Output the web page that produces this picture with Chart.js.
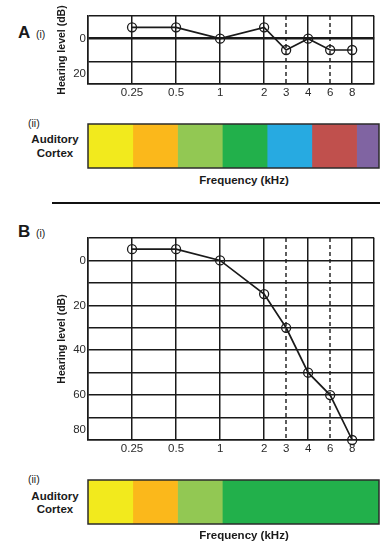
<!DOCTYPE html>
<html>
<head>
<meta charset="utf-8">
<script src="https://cdn.jsdelivr.net/npm/chart.js@4.4.0/dist/chart.umd.min.js"></script>
<style>
  body { margin: 0; background: #fff; font-family: "Liberation Sans", Arial, sans-serif; color: #1a1a1a; }
  #page { position: relative; width: 380px; height: 542px; overflow: hidden; }
  .box { position: absolute; left: 0; width: 380px; }
  .t { position: absolute; white-space: nowrap; line-height: 16px; height: 16px; }
  .c { transform: translateX(-50%); text-align: center; }
  .b { font-weight: bold; }
</style>
</head>
<body>
<div id="page">
  <div class="t b" style="left:18px;top:25px;font-size:17px;">A</div>
  <div class="t" style="left:36px;top:26px;font-size:10.5px;">(i)</div>
  <div class="box" style="top:0;height:100px;"><canvas id="audioA" width="380" height="100"></canvas></div>

  <div class="t" style="left:28px;top:115px;font-size:10.5px;">(ii)</div>
  <div class="t b c" style="left:55px;top:131px;font-size:11.5px;">Auditory</div>
  <div class="t b c" style="left:55px;top:145px;font-size:11.5px;">Cortex</div>
  <div class="box" style="top:120px;height:52px;"><canvas id="cortexA" width="380" height="52"></canvas></div>
  <div class="t b c" style="left:244px;top:172px;font-size:11.5px;">Frequency (kHz)</div>

  <div style="position:absolute;left:52px;top:202px;width:328px;height:2px;background:#111;"></div>

  <div class="t b" style="left:18px;top:224px;font-size:17px;">B</div>
  <div class="t" style="left:36px;top:225px;font-size:10.5px;">(i)</div>
  <div class="box" style="top:222px;height:234px;"><canvas id="audioB" width="380" height="234"></canvas></div>

  <div class="t" style="left:28px;top:471px;font-size:10.5px;">(ii)</div>
  <div class="t b c" style="left:55px;top:488px;font-size:11.5px;">Auditory</div>
  <div class="t b c" style="left:55px;top:501px;font-size:11.5px;">Cortex</div>
  <div class="box" style="top:476px;height:52px;"><canvas id="cortexB" width="380" height="52"></canvas></div>
  <div class="t b c" style="left:244px;top:527px;font-size:11.5px;">Frequency (kHz)</div>
</div>

<script>
// frequencies (kHz) and where they sit on the octave axis
var freqLabels = ['0.25', '0.5', '1', '2', '3', '4', '6', '8']
var freqPos = [0, 1, 2, 3, 3.5, 4, 4.5, 5]
var gridPos = [-1, 0, 1, 2, 3, 3.5, 4, 4.5, 5, 5.5]
var dashedPos = [3.5, 4.5]

// hearing level (dB HL)
var hearingA = [-5, -5, 0, -5, 5, 0, 5, 5]
var hearingB = [-5, -5, 0, 15, 30, 50, 60, 80]
var levelGridA = [-10, 0, 10, 20]
var levelGridB = [-10, 0, 10, 20, 30, 40, 50, 60, 70, 80]
var levelLabelsA = [0, 20]
var levelLabelsB = [0, 20, 40, 60, 80]

// auditory cortex bands (edges on the octave axis)
var bandEdgesA = [-1, 0, 1, 2, 3, 4, 5, 5.5]
var bandColorsA = ['#f2ea1d', '#fbb81b', '#92c853', '#22b04b', '#27aae1', '#c0504d', '#8064a2']
var bandEdgesB = [-1, 0, 1, 2, 5.5]
var bandColorsB = ['#f2ea1d', '#fbb81b', '#92c853', '#22b04b']

const ink = '#1a1a1a'
const font = '"Liberation Sans", Arial, sans-serif'

Chart.defaults.animation = false
Chart.defaults.font.family = font
Chart.defaults.color = '#2a2a2a'

// dashed lines at 3 and 6 kHz
var dashedGrid = {
  id: 'dashedGrid',
  beforeDatasetsDraw: function(chart) {
    var ctx = chart.ctx
    var area = chart.chartArea
    var x = chart.scales.x
    ctx.save()
    ctx.strokeStyle = ink
    ctx.lineWidth = 1.4
    ctx.setLineDash([4, 3])
    dashedPos.forEach(function(v) {
      var px = Math.round(x.getPixelForValue(v))
      ctx.beginPath()
      ctx.moveTo(px, area.top)
      ctx.lineTo(px, area.bottom)
      ctx.stroke()
    })
    ctx.restore()
  }
}

// outline round the colour bar
var frame = {
  id: 'frame',
  afterDraw: function(chart) {
    var ctx = chart.ctx
    var a = chart.chartArea
    ctx.save()
    ctx.strokeStyle = '#2b2b2b'
    ctx.lineWidth = 1.5
    ctx.strokeRect(a.left, a.top, a.right - a.left, a.bottom - a.top)
    ctx.restore()
  }
}

function audiogram(id, values, levelGrid, labelled) {
  var yMax = levelGrid[levelGrid.length - 1]
  return new Chart(document.getElementById(id), {
    type: 'line',
    data: {
      datasets: [{
        data: freqPos.map(function(x, i) { return { x: x, y: values[i] } }),
        borderColor: ink,
        borderWidth: 1.7,
        tension: 0,
        pointStyle: 'circle',
        pointRadius: 4.5,
        pointBorderWidth: 1.3,
        pointBorderColor: ink,
        pointBackgroundColor: 'rgba(0,0,0,0)',
        clip: false
      }]
    },
    options: {
      responsive: false,
      layout: { padding: { top: 16, left: 52, right: 1, bottom: 0 } },
      plugins: { legend: { display: false }, tooltip: { enabled: false } },
      scales: {
        x: {
          type: 'linear',
          min: -1,
          max: 5.5,
          afterBuildTicks: function(scale) {
            scale.ticks = gridPos.map(function(v) { return { value: v } })
          },
          afterFit: function(scale) {
            scale.height = 16
            scale.paddingLeft = 0
            scale.paddingRight = 0
          },
          ticks: {
            autoSkip: false,
            maxRotation: 0,
            padding: 2,
            font: { size: 11.5 },
            callback: function(v) {
              var i = freqPos.indexOf(v)
              return i >= 0 ? freqLabels[i] : ''
            }
          },
          grid: {
            drawTicks: false,
            color: function(c) { return dashedPos.indexOf(c.tick.value) >= 0 ? 'rgba(0,0,0,0)' : ink },
            lineWidth: 1.5
          },
          border: { display: true, color: ink, width: 1.5 }
        },
        y: {
          type: 'linear',
          reverse: true,
          min: levelGrid[0],
          max: yMax,
          afterBuildTicks: function(scale) {
            scale.ticks = levelGrid.map(function(v) { return { value: v } })
          },
          afterFit: function(scale) {
            scale.width = 36
            scale.paddingTop = 0
            scale.paddingBottom = 0
          },
          ticks: {
            autoSkip: false,
            padding: 2,
            font: { size: 11.5, lineHeight: 1.8 },
            callback: function(v) {
              if (labelled.indexOf(v) < 0) return ''
              // bottom label sits a little above the frame, as in the figure
              return v === yMax ? [String(v), ''] : v
            }
          },
          grid: {
            drawTicks: false,
            color: ink,
            lineWidth: function(c) { return c.tick.value === 0 && yMax < 50 ? 2.4 : 1.5 }
          },
          border: { display: true, color: ink, width: 1.5 },
          title: {
            display: true,
            text: 'Hearing level (dB)',
            font: { size: 10.5, weight: 'bold' },
            color: '#1a1a1a',
            padding: { top: 4, bottom: 0 }
          }
        }
      }
    },
    plugins: [dashedGrid]
  })
}

function cortexBar(id, edges, colors) {
  var sets = colors.map(function(col, i) {
    return {
      data: [[edges[i], edges[i + 1]]],
      backgroundColor: col,
      borderWidth: 0,
      grouped: false,
      barPercentage: 1,
      categoryPercentage: 1
    }
  })
  return new Chart(document.getElementById(id), {
    type: 'bar',
    data: { labels: ['Auditory Cortex'], datasets: sets },
    options: {
      indexAxis: 'y',
      responsive: false,
      layout: { padding: { top: 4, bottom: 4, left: 88, right: 1 } },
      plugins: { legend: { display: false }, tooltip: { enabled: false } },
      scales: {
        x: { type: 'linear', min: -1, max: 5.5, display: false },
        y: { display: false }
      }
    },
    plugins: [frame]
  })
}

var chartA = audiogram('audioA', hearingA, levelGridA, levelLabelsA)
var barA = cortexBar('cortexA', bandEdgesA, bandColorsA)
var chartB = audiogram('audioB', hearingB, levelGridB, levelLabelsB)
var barB = cortexBar('cortexB', bandEdgesB, bandColorsB)
</script>
</body>
</html>
